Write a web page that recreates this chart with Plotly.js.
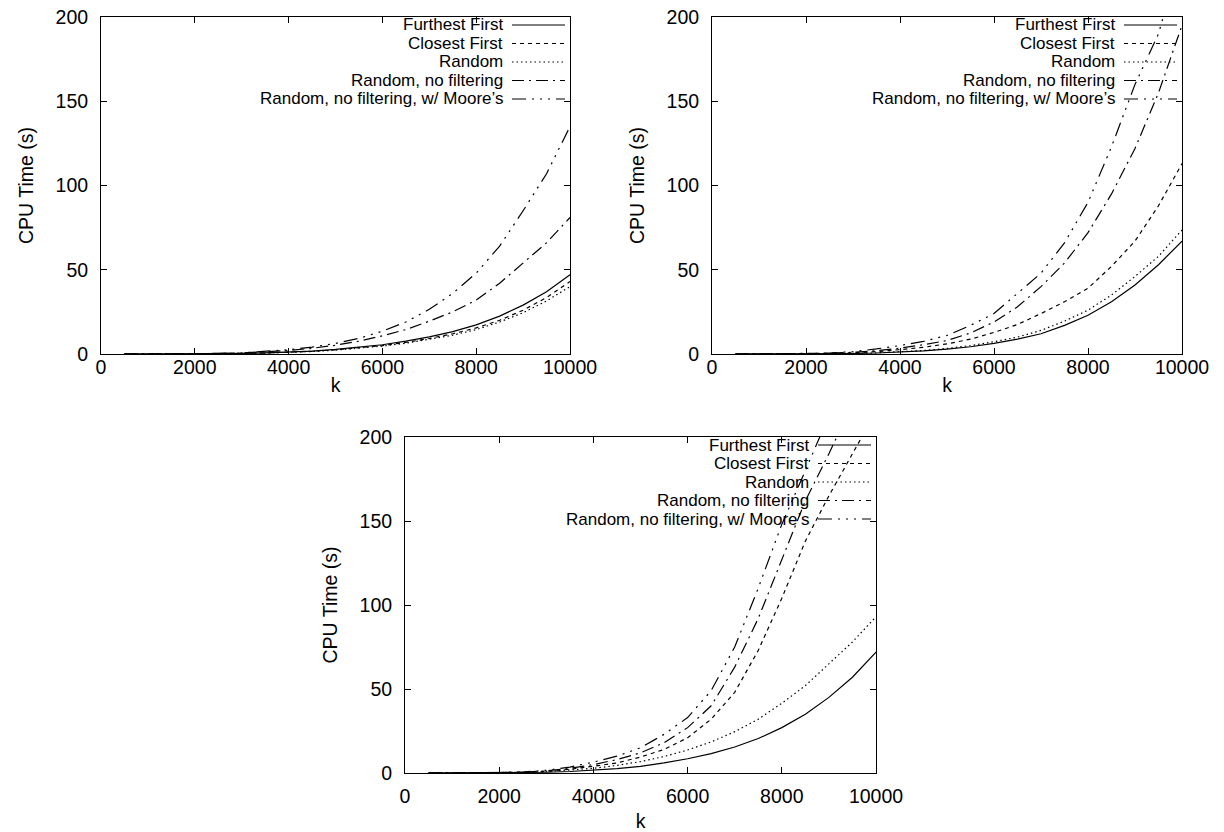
<!DOCTYPE html>
<html>
<head>
<meta charset="utf-8">
<script src="https://cdn.plot.ly/plotly-3.0.1.min.js"></script>
<style>html,body{margin:0;padding:0;background:#fff}#chart{width:1224px;height:832px}</style>
</head>
<body>
<div id="chart"></div>
<script>
// ---------- data ----------
const k = [500,1000,1500,2000,2500,3000,3500,4000,4500,5000,5500,6000,6500,7000,7500,8000,8500,9000,9500,10000];
const seriesNames = ["Furthest First","Closest First","Random","Random, no filtering","Random, no filtering, w/ Moore\u2019s"];
const xTicks = [0,2000,4000,6000,8000,10000];
const yTicks = [0,50,100,150,200];

// panel 1 (top left)
const ff1  = [0.001,0.007,0.025,0.07,0.16,0.33,0.62,1.1,1.75,2.7,3.9,5.5,7.6,10.2,13.3,17.3,22.5,29,37,47];
const cf1  = [0.001,0.006,0.023,0.065,0.15,0.3,0.58,1.0,1.6,2.5,3.6,5.0,6.9,9.2,12,15.5,20,26,33.5,43];
const r1   = [0.001,0.006,0.02,0.06,0.14,0.29,0.55,0.95,1.5,2.3,3.4,4.7,6.4,8.6,11.2,14.5,19,24.5,31.5,40];
const rnf1 = [0.002,0.01,0.04,0.12,0.28,0.6,1.2,2.1,3.4,5.2,7.6,10.8,14.5,19.5,25,32,42,54,66,81];
const m1   = [0.002,0.012,0.05,0.14,0.34,0.72,1.4,2.5,4.1,6.3,9.3,13.5,19,26.5,36,48,64,85,107,135];

// panel 2 (top right)
const ff2  = [0.001,0.005,0.02,0.05,0.13,0.29,0.58,1.05,1.8,2.9,4.3,6.3,8.8,12,17,23,31,41,53,67];
const cf2  = [0.001,0.006,0.03,0.1,0.3,0.7,1.4,2.6,4,6,8.8,12.8,17.5,24,31,39,52,67,88,113];
const r2   = [0.001,0.005,0.02,0.06,0.14,0.32,0.65,1.2,2.1,3.3,5,7.3,10,14,19.5,26,35,46,58,73.6];
const rnf2 = [0.002,0.01,0.05,0.18,0.45,1.0,2.0,3.5,5.5,8,12.5,19,28,40,54,72,95,122,155,195];
const m2   = [0.002,0.015,0.06,0.2,0.6,1.4,3.0,5.0,7.5,11,17,24,36,48,66,90,123,160,190,240];

// panel 3 (bottom)
const ff3  = [0.001,0.008,0.03,0.08,0.2,0.45,0.9,1.6,2.6,4,6,8.5,11.5,15.5,20.5,27,35,45,57,72];
const cf3  = [0.001,0.004,0.015,0.12,0.4,1.0,2.2,4,6,9.5,14,21,32,48,73,104,138,165,190,215];
const r3   = [0.002,0.014,0.055,0.16,0.4,0.85,1.6,2.8,4.5,6.8,9.8,13.7,18.5,24.6,32,41.5,52,65,78,93];
const rnf3 = [0.001,0.005,0.02,0.15,0.5,1.3,2.8,5,8,12,18,27,40,63,92,127,162,190,220,255];
const m3   = [0.001,0.007,0.03,0.2,0.6,1.6,3.5,6.5,10,15,23,33,49,75,110,148,180,212,245,278];

// ---------- styling ----------
const W = 1224, H = 832;
const FONT = "Liberation Sans, Arial, Helvetica, sans-serif";
const FS = 19.5;      // axis text
const KFS = 17;       // key text
const KROW = 18.5;    // key row spacing
const dashes = ["solid", "4px,4px", "1.5px,3px", "12px,5px,2px,5px", "14px,6px,2px,6px,2px,6px,2px,6px"];

const panels = [
  {ax: "", series: [ff1, cf1, r1, rnf1, m1], px: [101, 570], py: [17, 354], tls: -4, tsd: 0},
  {ax: "2", series: [ff2, cf2, r2, rnf2, m2], px: [712, 1182], py: [17, 354], tls: -4, tsd: 0},
  {ax: "3", series: [ff3, cf3, r3, rnf3, m3], px: [405, 876], py: [437, 773], tls: 6, tsd: 8}
];

const traces = [];
const layout = {
  width: W, height: H,
  margin: {l: 0, r: 0, t: 0, b: 0},
  paper_bgcolor: "#fff", plot_bgcolor: "#fff",
  showlegend: false,
  font: {family: FONT, size: FS, color: "#000"},
  annotations: [], shapes: []
};

panels.forEach((p) => {
  const xa = "x" + p.ax, ya = "y" + p.ax;
  p.series.forEach((vals, i) => {
    traces.push({
      x: k, y: vals, xaxis: xa, yaxis: ya, type: "scatter", mode: "lines",
      name: seriesNames[i], showlegend: false,
      line: {color: "#000", width: 1.2, dash: dashes[i]},
      hoverinfo: "skip"
    });
  });
  const axisCommon = {
    showgrid: false, zeroline: false, showline: true, mirror: "ticks",
    linecolor: "#000", linewidth: 1, ticks: "inside", ticklen: 6, tickcolor: "#000",
    tickfont: {family: FONT, size: FS, color: "#000"}, automargin: false
  };
  layout["xaxis" + p.ax] = Object.assign({}, axisCommon, {
    domain: [p.px[0] / W, p.px[1] / W], anchor: ya,
    range: [0, 10000], tickvals: xTicks, ticktext: xTicks.map(String),
    ticklabelstandoff: p.tls,
    title: {text: "k", font: {family: FONT, size: FS, color: "#000"}, standoff: p.tsd}
  });
  layout["yaxis" + p.ax] = Object.assign({}, axisCommon, {
    domain: [1 - p.py[1] / H, 1 - p.py[0] / H], anchor: xa,
    range: [0, 200], tickvals: yTicks, ticktext: yTicks.map(String),
    ticklabelstandoff: 8,
    title: {text: "CPU Time (s)", font: {family: FONT, size: FS, color: "#000"}, standoff: 16}
  });
  // gnuplot-style key: right-aligned text, sample line to its right
  const textRight = p.px[1] - 65, sampleL = p.px[1] - 58, sampleR = p.px[1] - 5;
  seriesNames.forEach((nm, i) => {
    const yy = p.py[0] + 8 + i * KROW;
    layout.annotations.push({
      xref: "paper", yref: "paper", x: textRight / W, y: 1 - yy / H,
      xanchor: "right", yanchor: "middle", showarrow: false, text: nm,
      font: {family: FONT, size: KFS, color: "#000"}
    });
    layout.shapes.push({
      type: "line", xref: "paper", yref: "paper",
      x0: sampleL / W, x1: sampleR / W, y0: 1 - yy / H, y1: 1 - yy / H,
      line: {color: "#000", width: 1.2, dash: dashes[i]}
    });
  });
});

Plotly.newPlot("chart", traces, layout, {staticPlot: true, displayModeBar: false});
</script>
</body>
</html>
